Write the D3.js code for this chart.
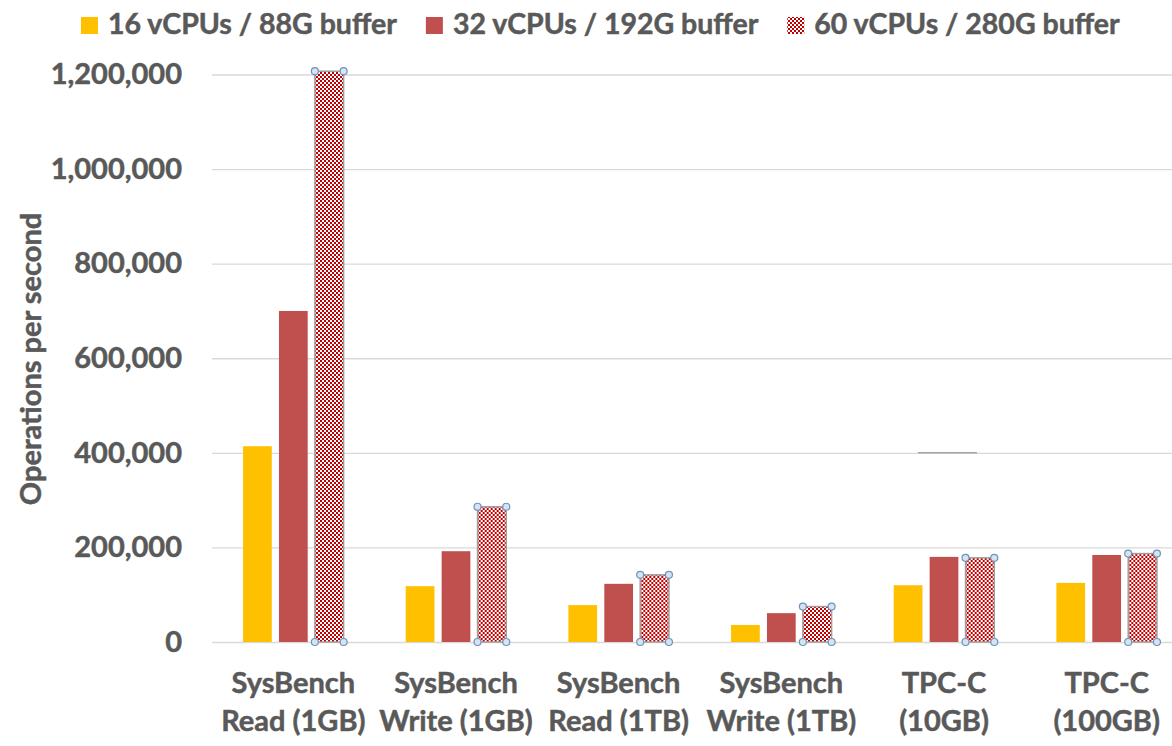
<!DOCTYPE html>
<html>
<head>
<meta charset="utf-8">
<script src="https://cdn.jsdelivr.net/npm/d3@7"></script>
<style>
  html, body { margin: 0; padding: 0; background: #fff; }
  svg { display: block; }
  text { font-family: Lato, "Open Sans", sans-serif; font-weight: bold; fill: #595959; stroke: #595959; stroke-width: 0.5px; }
</style>
</head>
<body>
<svg id="chart" width="1172" height="746"></svg>
<script>
// chart data
var categories = [
  ['SysBench', 'Read (1GB)'],
  ['SysBench', 'Write (1GB)'],
  ['SysBench', 'Read (1TB)'],
  ['SysBench', 'Write (1TB)'],
  ['TPC-C', '(10GB)'],
  ['TPC-C', '(100GB)']
]
var seriesNames = ['16 vCPUs / 88G buffer', '32 vCPUs / 192G buffer', '60 vCPUs / 280G buffer']
var small = [414000, 118000, 78000, 36000, 120000, 125000]
var medium = [700000, 192000, 123000, 61000, 180000, 184000]
var large = [1207000, 286000, 142000, 75000, 178000, 187000]
var yTicks = [0, 200000, 400000, 600000, 800000, 1000000, 1200000]

var seriesValues = [small, medium, large]
var colors = ['#ffc000', '#c0504d', 'url(#checker)']

var svg = d3.select('#chart')

var defs = svg.append('defs')
var pat = defs.append('pattern')
  .attr('id', 'checker')
  .attr('width', 4)
  .attr('height', 4)
  .attr('patternUnits', 'userSpaceOnUse')
pat.append('rect').attr('width', 4).attr('height', 4).attr('fill', '#fff')
pat.append('rect').attr('x', 0).attr('y', 0).attr('width', 2).attr('height', 2).attr('fill', '#c00000')
pat.append('rect').attr('x', 2).attr('y', 2).attr('width', 2).attr('height', 2).attr('fill', '#c00000')

var catIndex = categories.map(function(d, i) { return i })

var x0 = d3.scaleBand()
  .domain(catIndex)
  .range([212, 1188])
  .padding(0)

var x1 = d3.scaleBand()
  .domain([0, 1, 2])
  .range([0, x0.bandwidth()])
  .paddingInner(0.2)
  .paddingOuter(0.865)

var y = d3.scaleLinear()
  .domain([0, 1200000])
  .range([642, 74.5])

// gridlines
var yAxis = d3.axisLeft(y)
  .tickValues(yTicks)
  .tickSize(-(1188 - 212))
  .tickPadding(30)
  .tickFormat(d3.format(','))

var gy = svg.append('g')
  .attr('transform', 'translate(212,0)')
  .call(yAxis)
gy.select('.domain').remove()
gy.selectAll('.tick line').attr('stroke', '#d9d9d9').attr('stroke-width', 1.3)
gy.selectAll('.tick text')
  .attr('font-size', 29)
  .attr('fill', '#595959')
  .style('font-family', 'Lato, sans-serif')
  .style('font-weight', 'bold')

// stray short line near TPC-C (10GB)
svg.append('line')
  .attr('x1', 918).attr('x2', 977)
  .attr('y1', y(400000)).attr('y2', y(400000))
  .attr('stroke', '#a6a6a6')
  .attr('stroke-width', 1.5)

// bars
var groups = svg.append('g')
  .selectAll('g')
  .data(catIndex)
  .join('g')
  .attr('transform', function(i) { return 'translate(' + x0(i) + ',0)' })

groups.selectAll('rect')
  .data(function(i) {
    return seriesValues.map(function(vals, s) { return { s: s, v: vals[i] } })
  })
  .join('rect')
  .attr('x', function(d) { return x1(d.s) })
  .attr('y', function(d) { return y(d.v) })
  .attr('width', x1.bandwidth())
  .attr('height', function(d) { return y(0) - y(d.v) })
  .attr('fill', function(d) { return colors[d.s] })
  .attr('stroke', function(d) { return d.s === 2 ? '#a0a0a0' : 'none' })
  .attr('stroke-width', 1.5)

// selection handles on patterned bars
groups.each(function(i) {
  var g = d3.select(this)
  var bx = x1(2)
  var bw = x1.bandwidth()
  var top = y(large[i])
  var corners = [[bx, top], [bx + bw, top], [bx, y(0)], [bx + bw, y(0)]]
  g.selectAll('circle')
    .data(corners)
    .join('circle')
    .attr('cx', function(d) { return d[0] })
    .attr('cy', function(d) { return d[1] })
    .attr('r', 3.5)
    .attr('fill', '#d5e4f2')
    .attr('stroke', '#6f93ba')
    .attr('stroke-width', 1.2)
})

// category labels
var labels = svg.append('g')
  .selectAll('text')
  .data(catIndex)
  .join('text')
  .attr('text-anchor', 'middle')
  .attr('font-size', 29)
  .attr('x', function(i) { return x0(i) + x0.bandwidth() / 2 })
  .attr('y', 693)
labels.selectAll('tspan')
  .data(function(i) { return categories[i] })
  .join('tspan')
  .attr('x', function() { return d3.select(this.parentNode).attr('x') })
  .attr('dy', function(d, k) { return k === 0 ? 0 : 38 })
  .text(function(d) { return d })

// y axis title
svg.append('text')
  .attr('transform', 'translate(41,359) rotate(-90)')
  .attr('text-anchor', 'middle')
  .attr('font-size', 29)
  .text('Operations per second')

// legend
var legend = svg.append('g')
var lx = 81
seriesNames.forEach(function(name, s) {
  legend.append('rect')
    .attr('x', lx)
    .attr('y', 17)
    .attr('width', 17)
    .attr('height', 17)
    .attr('fill', colors[s])
  var t = legend.append('text')
    .attr('x', lx + 27)
    .attr('y', 34)
    .attr('font-size', 28.5)
    .text(name)
  lx = lx + 27 + t.node().getComputedTextLength() + 29
})
</script>
</body>
</html>
